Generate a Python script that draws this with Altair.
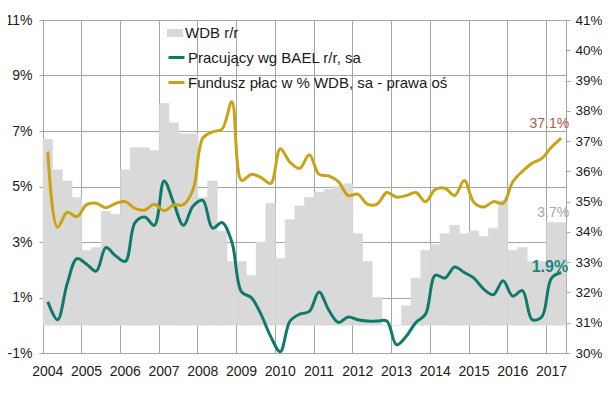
import altair as alt
import pandas as pd

years = list(range(2004, 2018))
quarters = [f"{y} Q{q}" for y in years for q in range(1, 5)][:54]

gdp = [6.7, 5.6, 5.2, 4.6, 2.7, 2.8, 4.1, 4.0, 5.6, 6.4, 6.4, 6.3,
       8.0, 7.3, 6.9, 6.9, 4.6, 5.2, 3.4, 2.3, 2.3, 1.8, 3.0, 4.4,
       2.4, 3.8, 4.3, 4.6, 4.8, 4.9, 5.0, 5.1, 3.3, 2.3, 1.0, 0.0,
       0.0, 0.7, 1.7, 2.7, 2.9, 3.3, 3.6, 3.3, 3.4, 3.2, 3.5, 4.5,
       2.7, 2.8, 2.3, 2.3, 3.7, 3.7]
employed = [0.85, 0.2, 1.5, 2.4, 2.2, 1.95, 2.8, 2.5, 2.3, 3.7, 3.9, 3.6,
            5.2, 4.4, 3.6, 4.3, 4.5, 3.5, 3.7, 3.0, 1.2, 1.0, 0.4, -0.4,
            -0.95, 0.15, 0.4, 0.5, 1.2, 0.55, 0.1, 0.3, 0.2, 0.15, 0.15, 0.15,
            -0.7, -0.4, 0.1, 0.4, 1.8, 1.7, 2.1, 1.9, 1.7, 1.3, 1.1, 1.6,
            1.05, 1.25, 0.2, 0.3, 1.7, 1.9]
wage_fund = [36.65, 34.15, 34.65, 34.5, 34.9, 34.95, 34.8, 34.94, 35.0, 34.78, 34.72, 34.91,
             34.7, 34.89, 34.9, 35.4, 37.1, 37.3, 37.4, 38.3, 35.7, 35.9, 35.8, 35.6,
             36.75, 36.3, 36.1, 36.55, 35.9, 35.85, 35.66, 35.2, 35.25, 34.92, 34.92, 35.3,
             35.15, 35.2, 35.3, 35.0, 35.4, 35.44, 35.2, 35.7, 34.97, 34.82, 35.0, 34.94,
             35.65, 36.0, 36.27, 36.43, 36.8, 37.1]

s_gdp = "WDB r/r"
s_emp = "Pracujący wg BAEL r/r, sa"
s_wf = "Fundusz płac w % WDB, sa - prawa oś"

left_ticks = [-1, 1, 3, 5, 7, 9, 11]
right_ticks = list(range(30, 42))
year_starts = [f"{y} Q1" for y in years]

GRAY_BAR = "#D9D9D9"
GREEN = "#0F7A6A"
GOLD = "#C9A313"
GRID = "#A6A6A6"
FONT = "Liberation Sans"
TXT = "#1a1a1a"

df = pd.DataFrame({"q": quarters, "gdp": gdp, "emp": employed, "wf": wage_fund})
df["s_emp"] = s_emp
df["s_wf"] = s_wf
last = df.tail(1)
legend_gdp = pd.DataFrame({"name": [s_gdp]})

x_enc = alt.X(
    "q:N", sort=quarters, title=None,
    scale=alt.Scale(paddingInner=0, paddingOuter=0),
    axis=alt.Axis(values=year_starts, labelExpr="substring(datum.label, 0, 4)",
                  bandPosition=0, grid=True, gridColor=GRID, ticks=False,
                  labelAngle=0, labelPadding=11, domainColor=GRID, labelOverlap=False,
                  labelFont=FONT, labelFontSize=14, labelColor=TXT),
)

left_scale = alt.Scale(domain=[-1, 11], nice=False, zero=False)
right_scale = alt.Scale(domain=[30, 41], nice=False, zero=False)

left_axis = alt.Axis(values=left_ticks, labelExpr="datum.value + '%'",
                     grid=True, gridColor=GRID, tickSize=4, tickColor=GRID,
                     domainColor=GRID, labelPadding=7, labelOverlap=False,
                     labelFont=FONT, labelFontSize=14, labelColor=TXT)
right_axis = alt.Axis(orient="right", values=right_ticks, labelExpr="datum.value + '%'",
                      grid=False, tickSize=4, tickColor=GRID, domainColor=GRID,
                      labelPadding=5, labelOverlap=False, labelFont=FONT,
                      labelFontSize=13.5, labelColor=TXT)

stroke_scale = alt.Scale(domain=[s_emp, s_wf], range=[GREEN, GOLD])
stroke_legend = alt.Legend(orient="none", legendX=124, legendY=28, title=None,
                           symbolType="stroke", symbolSize=256, symbolStrokeWidth=3,
                           labelFontSize=15, labelFont=FONT, labelColor=TXT,
                           labelLimit=0, labelOffset=2, rowPadding=7, padding=0)

bars = alt.Chart(df).mark_bar(color=GRAY_BAR, stroke=GRAY_BAR, strokeWidth=0.5).encode(
    x=x_enc,
    y=alt.Y("gdp:Q", scale=left_scale, title=None, axis=left_axis),
    y2=alt.datum(0),
)

# legend entry for the bar series
leg_box = alt.Chart(legend_gdp).mark_rect(color=GRAY_BAR).encode(
    x=alt.value(124), x2=alt.value(140), y=alt.value(9), y2=alt.value(17))
leg_txt = alt.Chart(legend_gdp).mark_text(
    align="left", baseline="middle", font=FONT, fontSize=15, color=TXT).encode(
    x=alt.value(142), y=alt.value(13), text="name:N")

green = alt.Chart(df).mark_line(strokeWidth=3, interpolate="catmull-rom").encode(
    x=x_enc,
    y=alt.Y("emp:Q", scale=left_scale, title=None, axis=left_axis),
    stroke=alt.Stroke("s_emp:N", scale=stroke_scale, legend=stroke_legend),
)

lbl_gdp = alt.Chart(last).transform_calculate(
    t="format(datum.gdp, '.1f') + '%'"
).mark_text(align="right", baseline="alphabetic", dx=8, dy=-6,
            font=FONT, fontSize=14, color="#A6A6A6").encode(
    x=x_enc, y=alt.Y("gdp:Q", scale=left_scale, title=None, axis=left_axis), text="t:N")

lbl_emp = alt.Chart(last).transform_calculate(
    t="format(datum.emp, '.1f') + '%'"
).mark_text(align="right", baseline="alphabetic", dx=7, dy=-1,
            font=FONT, fontSize=16, fontWeight="bold", color="#16877A").encode(
    x=x_enc, y=alt.Y("emp:Q", scale=left_scale, title=None, axis=left_axis), text="t:N")

gold = alt.Chart(df).mark_line(strokeWidth=3, interpolate="catmull-rom").encode(
    x=x_enc,
    y=alt.Y("wf:Q", scale=right_scale, title=None, axis=right_axis),
    stroke=alt.Stroke("s_wf:N", scale=stroke_scale, legend=stroke_legend),
)

lbl_wf = alt.Chart(last).transform_calculate(
    t="format(datum.wf, '.1f') + '%'"
).mark_text(align="right", baseline="alphabetic", dx=8, dy=-10,
            font=FONT, fontSize=14, color="#B0584F").encode(
    x=x_enc, y=alt.Y("wf:Q", scale=right_scale, title=None, axis=right_axis), text="t:N")

left_group = alt.layer(bars, green, lbl_gdp, lbl_emp, leg_box, leg_txt)
right_group = alt.layer(gold, lbl_wf)

chart = alt.layer(left_group, right_group).resolve_scale(y="independent").properties(
    width=523, height=333,
    autosize=alt.AutoSizeParams(type="none"),
    padding={"left": 35, "top": 12, "right": 36, "bottom": 37},
).configure_view(stroke=None).configure(background="white")

chart.save("out.html", embed_options={"renderer": "svg", "actions": False})
